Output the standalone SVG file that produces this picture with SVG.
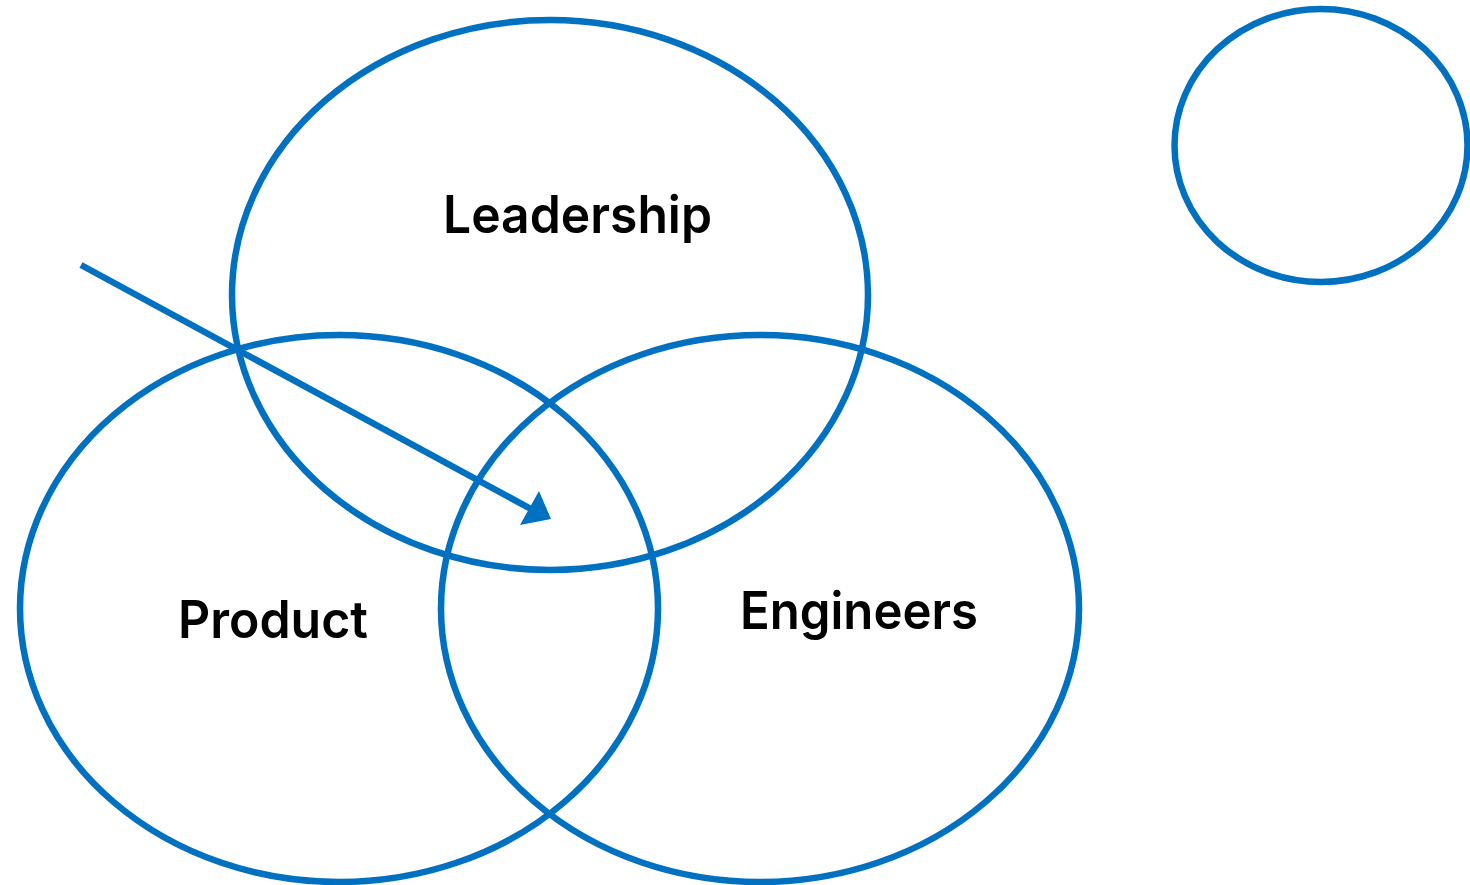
<svg xmlns="http://www.w3.org/2000/svg" width="1470" height="885" viewBox="0 0 1470 885">
<style>
.ring{fill:none;stroke:#0070C0;stroke-width:6.5}
.lbl{font-family:Inter,"Liberation Sans",sans-serif;font-weight:600;font-size:52px;fill:#000}
.conn{stroke:#0070C0;stroke-width:6.5;fill:none}
</style>
<rect width="1470" height="885" fill="#fff"/>
<g id="leadership">
<ellipse class="ring" cx="550" cy="295" rx="318" ry="275"/>
<text class="lbl" x="443" y="233" textLength="269" lengthAdjust="spacingAndGlyphs">Leadership</text>
</g>
<g id="product">
<ellipse class="ring" cx="339" cy="608.5" rx="319" ry="273.5"/>
<text class="lbl" x="178" y="638" textLength="190" lengthAdjust="spacingAndGlyphs">Product</text>
</g>
<g id="engineers">
<ellipse class="ring" cx="760" cy="608.5" rx="319" ry="273.5"/>
<text class="lbl" x="740" y="629" textLength="238" lengthAdjust="spacingAndGlyphs">Engineers</text>
</g>
<g id="empty">
<ellipse class="ring" cx="1321" cy="145.5" rx="146.5" ry="136.5"/>
</g>
<g id="connectors">
<line class="conn" x1="81" y1="265" x2="531" y2="509"/>
<polygon points="551,519 520,525 539,491" fill="#0070C0"/>
</g>
</svg>
